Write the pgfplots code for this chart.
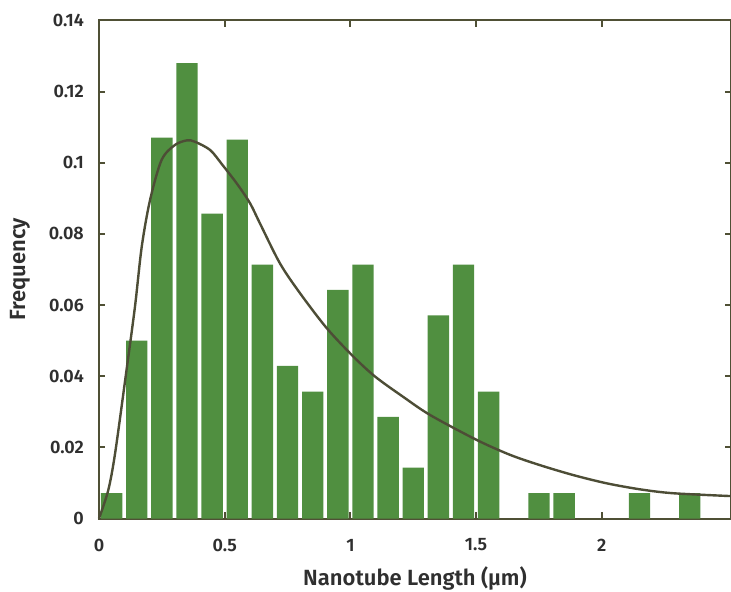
\documentclass[border=0pt]{standalone}
\usepackage{fontspec}
\setmainfont{Fira Sans}[BoldFont={Fira Sans SemiBold}]
\usepackage{pgfplots}
\pgfplotsset{compat=1.18}
\definecolor{bargreen}{HTML}{508F40}
\definecolor{axcol}{HTML}{4F5035}
\definecolor{curvecol}{HTML}{4D4D36}
\definecolor{txt}{HTML}{2F2F2F}
\begin{document}
\begin{tikzpicture}
\begin{axis}[
  scale only axis,
  width=632bp, height=498bp,
  xmin=0, xmax=2.514, ymin=0, ymax=0.14,
  axis line style={axcol, line width=2bp},
  tick style={axcol, line width=2bp},
  major tick length=6.5bp,
  tick align=inside,
  xtick={0,0.5,1,1.5,2},
  xticklabels={0,0.5,1,1.5,2},
  ytick={0,0.02,0.04,0.06,0.08,0.1,0.12,0.14},
  yticklabels={0,0.02,0.04,0.06,0.08,0.1,0.12,0.14},
  xtick pos=both, ytick pos=both,
  xticklabel pos=bottom, yticklabel pos=left,
  ticklabel style={font=\fontsize{18bp}{20bp}\selectfont\bfseries, text=txt, inner sep=0pt},
  xticklabel style={anchor=center, yshift=-26.5bp},
  yticklabel style={anchor=east, xshift=-15bp},
  xlabel={Nanotube Length (μm)},
  ylabel={Frequency},
  label style={font=\fontsize{22bp}{26bp}\selectfont\bfseries, text=txt, inner sep=0pt},
  xlabel style={at={(axis description cs:0.5,-0.1195)}, anchor=center},
  ylabel style={at={(axis description cs:-0.125,0.5)}, anchor=center},
  clip=false,
]
\addplot[ybar, bar width=0.085, fill=bargreen, draw=none] coordinates {
 (0.05,0.00714) (0.15,0.0500) (0.25,0.1071) (0.35,0.1280) (0.45,0.0857)
 (0.55,0.1065) (0.65,0.0714) (0.75,0.0429) (0.85,0.0357) (0.95,0.0643)
 (1.05,0.0714) (1.15,0.0286) (1.25,0.0143) (1.35,0.0571) (1.45,0.0714)
 (1.55,0.0357) (1.75,0.00714) (1.85,0.00714) (2.15,0.00714) (2.35,0.00714)
};
\addplot[smooth, curvecol, line width=2.4bp, mark=none] coordinates {
 (0,0) (0.037,0.008) (0.064,0.0183) (0.106,0.0399) (0.143,0.0595)
 (0.170,0.0764) (0.203,0.0895) (0.249,0.1008) (0.302,0.105) (0.35,0.1063)
 (0.382,0.1059) (0.442,0.1036) (0.49,0.0995) (0.55,0.094) (0.601,0.0886)
 (0.640,0.083) (0.720,0.0717) (0.800,0.0633) (0.906,0.0535) (1.012,0.0455)
 (1.10,0.0398) (1.210,0.0342) (1.317,0.0291) (1.502,0.0221) (1.635,0.0179)
 (1.754,0.0150) (1.887,0.0122) (2.019,0.0099) (2.152,0.0082) (2.284,0.0071)
 (2.514,0.0063)
};
\end{axis}
\pgfresetboundingbox
\path (-99bp,-73.5bp) rectangle (632bp,518.5bp);
\end{tikzpicture}
\end{document}
